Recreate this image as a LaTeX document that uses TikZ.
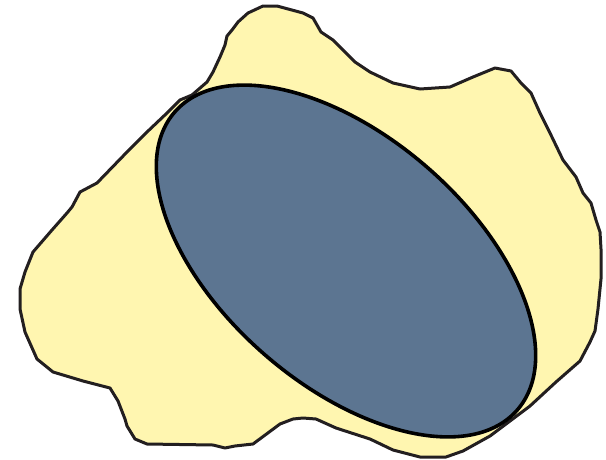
\documentclass[tikz,border=0pt]{standalone}
\definecolor{blobyellow}{HTML}{FFF6B0}
\definecolor{blobline}{HTML}{231F20}
\definecolor{ellblue}{HTML}{5C7591}
\tikzset{
  blob/.style={fill=blobyellow, draw=blobline, line width=3pt, line join=round},
  ellshape/.style={fill=ellblue, draw=black, line width=3.6pt}
}
\begin{document}
\begin{tikzpicture}[x=1pt,y=-1pt]
\useasboundingbox (0,0) rectangle (606,459);
\draw[blob] (263,6) -- (277,6) -- (303,13) -- (313,18) -- (321,32) -- (333,40) -- (355,62) -- (370,72) -- (393,83) -- (420,89) -- (450,87) -- (473,77) -- (495,68) -- (511,71) -- (521,83) -- (531,93) -- (540,113) -- (550,133) -- (563,160) -- (576,177) -- (583,193) -- (591,203) -- (596,220) -- (600,232) -- (601,249) -- (601,279) -- (598,309) -- (595,331) -- (590,342) -- (580,361) -- (556,382) -- (530,406) -- (490,436) -- (463,451) -- (446,457) -- (420,457) -- (393,450) -- (370,439) -- (336,428) -- (316,419) -- (303,418) -- (293,419) -- (280,424) -- (253,444) -- (235,446) -- (225,448) -- (213,445) -- (147,444) -- (135,439) -- (127,426) -- (125,419) -- (118,401) -- (110,388) -- (83,381) -- (53,372) -- (37,359) -- (25,332) -- (20,309) -- (20,289) -- (25,272) -- (33,252) -- (52,230) -- (67,213) -- (72,207) -- (80,192) -- (97,183) -- (127,152) -- (147,132) -- (167,113) -- (180,100) -- (192,95) -- (207,82) -- (213,72) -- (220,57) -- (225,45) -- (227,36) -- (232,30) -- (238,22) -- (248,13) -- cycle;
\begin{scope}[shift={(346,261)}, rotate=-41]
\draw[ellshape] (0,0) ellipse [x radius=227pt, y radius=124pt];
\end{scope}
\end{tikzpicture}
\end{document}
